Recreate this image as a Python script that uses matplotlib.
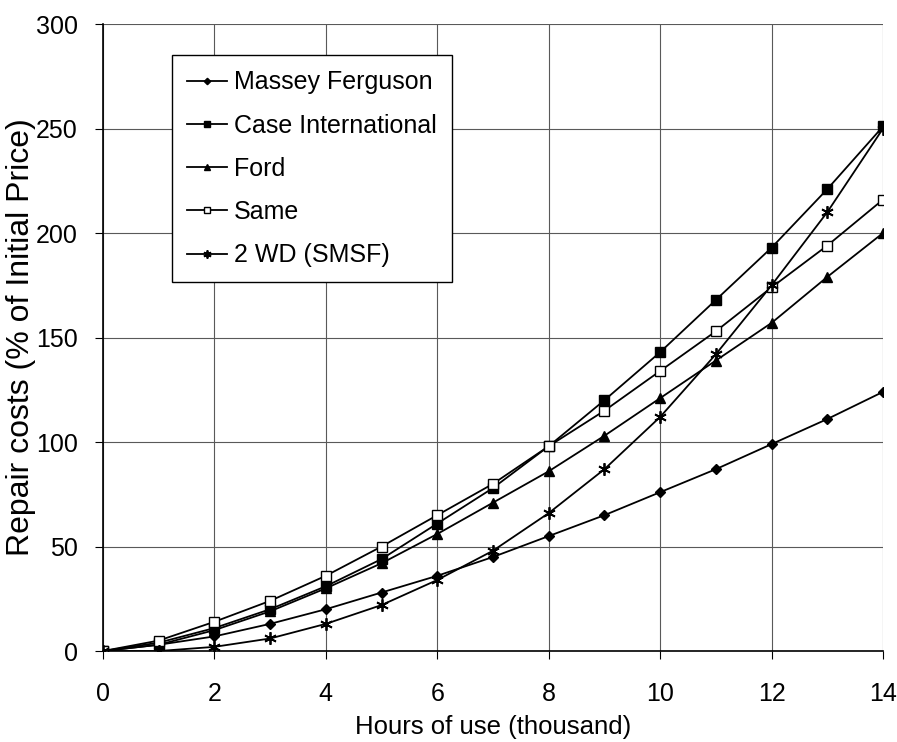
import matplotlib
matplotlib.use('Agg')
import matplotlib.pyplot as plt

plt.rcParams['font.family'] = ['Liberation Sans', 'DejaVu Sans']

hours = [0, 1, 2, 3, 4, 5, 6, 7, 8, 9, 10, 11, 12, 13, 14]
massey = [0, 3, 7, 13, 20, 28, 36, 45, 55, 65, 76, 87, 99, 111, 124]
case_int = [0, 4, 11, 20, 31, 44, 61, 78, 98, 120, 143, 168, 193, 221, 251]
ford = [0, 3, 10, 19, 30, 42, 56, 71, 86, 103, 121, 139, 157, 179, 200]
same = [0, 5, 14, 24, 36, 50, 65, 80, 98, 115, 134, 153, 174, 194, 216]
smsf = [0, 0, 2, 6, 13, 22, 34, 48, 66, 87, 112, 142, 175, 210, 250]

fig = plt.figure(figsize=(8.97, 7.42), dpi=100)
ax = fig.add_axes([0.1148, 0.1226, 0.8696, 0.845])

ax.plot(hours, massey, color='black', lw=1.3, marker='D', ms=5, label='Massey Ferguson')
ax.plot(hours, case_int, color='black', lw=1.3, marker='s', ms=7, label='Case International')
ax.plot(hours, ford, color='black', lw=1.3, marker='^', ms=7, label='Ford')
ax.plot(hours, same, color='black', lw=1.3, marker='s', ms=7, mfc='white', label='Same')
ax.plot(hours, smsf, color='black', lw=1.3, marker=(6, 2, 0), ms=9, mew=1.3, label='2 WD (SMSF)')

ax.set_xlim(0, 14)
ax.set_ylim(0, 300)
ax.set_xticks(range(0, 15, 2))
ax.set_yticks(range(0, 301, 50))
ax.tick_params(axis='both', labelsize=18, direction='out', length=6)
ax.tick_params(axis='x', pad=16)
ax.tick_params(axis='y', pad=12)
ax.grid(True, color='0.35', lw=0.8)
ax.set_axisbelow(True)
ax.spines['top'].set_visible(False)
ax.spines['right'].set_visible(False)
for s in ['left', 'bottom']:
    ax.spines[s].set_color('black')
    ax.spines[s].set_linewidth(1.2)

ax.set_xlabel('Hours of use (thousand)', fontsize=18.5, labelpad=7)
ax.set_ylabel('Repair costs (% of Initial Price)', fontsize=23, labelpad=0)

leg = ax.legend(loc='upper left', bbox_to_anchor=(0.089, 0.95), fontsize=18,
                frameon=True, fancybox=False, edgecolor='black', handlelength=1.6,
                handletextpad=0.27, labelspacing=0.77, borderpad=0.6, borderaxespad=0,
                framealpha=1, markerscale=0.65)
leg.get_frame().set_linewidth(1.0)

fig.savefig('out.png', dpi=100)
